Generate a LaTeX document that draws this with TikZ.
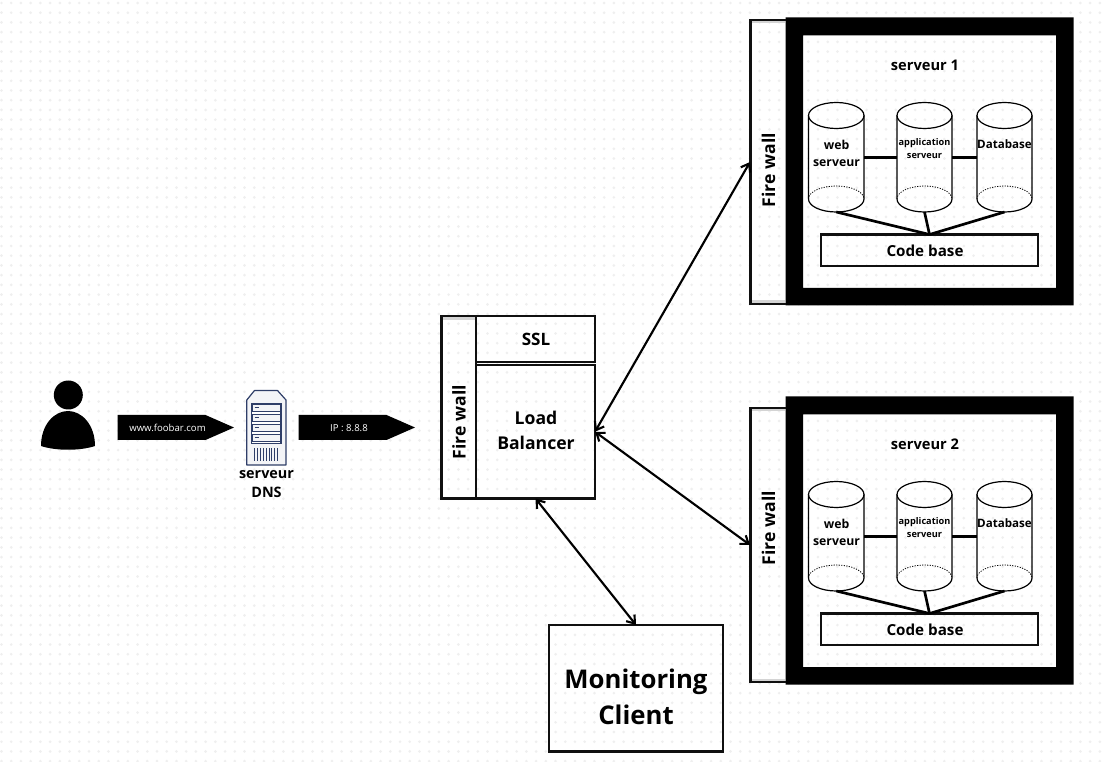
\documentclass[tikz,border=0pt]{standalone}
\usepackage{fontspec}
\setmainfont{Open Sans}
\usetikzlibrary{arrows.meta}
\definecolor{dotc}{HTML}{EFEFEF}
\definecolor{navy}{HTML}{2F3E68}
\definecolor{iconbg}{HTML}{F3F4F7}
\definecolor{band}{HTML}{D4D4D4}
\definecolor{ink}{HTML}{101010}
\tikzset{
  x=0.75pt,y=-0.75pt,
  cell/.style={draw=ink,line width=1.9pt,inner sep=0pt,outer sep=0pt},
  ghost/.style={inner sep=0pt,outer sep=0pt},
  lbl/.style={inner sep=0pt,outer sep=0pt,align=center,text=black,font=\bfseries},
  link/.style={draw=black,line width=2pt},
  dbl/.style={draw=black,line width=1.6pt,{Straight Barb[length=5.5pt,width=8pt]}-{Straight Barb[length=5.5pt,width=8pt]}},
  cylline/.style={draw=black,line width=0.9pt},
  tag/.style={fill=black},
}
\newcommand{\boxat}[6]{% style,name,x1,y1,x2,y2
  \node[#1,minimum width={((#5)-(#3))*0.75pt},minimum height={((#6)-(#4))*0.75pt}] (#2) at ({((#3)+(#5))/2},{((#4)+(#6))/2}) {};}
\newcommand{\cylat}[4]{% name, x1, x2, dy
  \boxat{ghost}{#1}{#2}{#4+102.5}{#3}{#4+212}
  \draw[cylline] ({(#2+#3)/2},#4+115.5) ellipse [x radius={(#3-#2)/2},y radius=13];
  \draw[cylline] (#2,#4+115.5) -- (#2,#4+199) arc[start angle=180,end angle=0,x radius={(#3-#2)/2},y radius=13] -- (#3,#4+115.5);
  \draw[cylline,densely dotted,line width=0.6pt] (#2,#4+199) arc[start angle=180,end angle=360,x radius={(#3-#2)/2},y radius=13];
}
\newcommand{\srv}[5]{% suffix, dy, title, fwtop, fwbottom
  \fill[black,even odd rule] (785.5,#2+17.5) rectangle (1073.5,#2+305.5) (803,#2+35.5) rectangle (1056,#2+288);
  \fill[band] (752,#4+1) rectangle (785,#4+3.5);
  \fill[band] (752,#5-3.5) rectangle (785,#5-1);
  \draw[draw=ink,line width=1.9pt] (785.5,#4) -- (750.5,#4) -- (750.5,#5) -- (785.5,#5);
  \boxat{ghost}{fw#1}{750}{#4}{786}{#5}
  \cylat{web#1}{808.5}{864}{#2}
  \cylat{app#1}{897}{952}{#2}
  \cylat{dbs#1}{977}{1032}{#2}
  \boxat{cell}{code#1}{821}{#2+234.5}{1038}{#2+266}
  \draw[link] (web#1.east) -- (app#1.west);
  \draw[link] (app#1.east) -- (dbs#1.west);
  \draw[link] (web#1.south) -- (code#1.north);
  \draw[link] (app#1.south) -- (code#1.north);
  \draw[link] (dbs#1.south) -- (code#1.north);
  \node[lbl,font=\bfseries\fontsize{11}{12}\selectfont] (title#1) at (925,#2+65.5) {#3};
  \node[lbl,font=\bfseries\fontsize{9.2}{12.6}\selectfont] (webt#1) at (836.5,#2+153.5) {web\\serveur};
  \node[lbl,font=\bfseries\fontsize{6.9}{9.6}\selectfont] (appt#1) at (924.5,#2+148.5) {application\\serveur};
  \node[lbl,font=\bfseries\fontsize{8.7}{10}\selectfont] (dbst#1) at (1004.5,#2+144) {Database};
  \node[lbl,font=\bfseries\fontsize{11.4}{13}\selectfont] (codet#1) at (925,#2+250.5) {Code base};
}
\begin{document}
\begin{tikzpicture}
\useasboundingbox (0,0) rectangle (1107,762);
\fill[white] (0,0) rectangle (1107,762);
% dotted canvas
\foreach \j in {0,...,78}{
  \draw[dotc,line width=2.2pt,line cap=round,dash pattern=on 0pt off 7.29pt] (1.5,{3+\j*9.72}) -- (1107,{3+\j*9.72});
}
% person
\fill[black] (68.3,395) circle[radius=14.5];
\fill[black] (41,446) .. controls (41,425) and (54,411) .. (68,411) .. controls (82,411) and (95,425) .. (95,446) .. controls (80,451) and (56,451) .. (41,446) -- cycle;
% black tags
\fill[tag] (117.5,415) -- (205.5,415) -- (234,427.5) -- (205.5,440) -- (117.5,440) -- cycle;
\node[lbl,text=white,font=\fontsize{7.2}{9}\selectfont] (url) at (167.5,428) {www.foobar.com};
\fill[tag] (298.5,415) -- (386.5,415) -- (415,427.5) -- (386.5,440) -- (298.5,440) -- cycle;
\node[lbl,text=white,font=\fontsize{7.2}{9}\selectfont] (ip) at (349,428) {IP : 8.8.8};
% DNS icon
\draw[navy,fill=iconbg,line width=0.9pt,line join=round] (254.5,390.5) -- (277.5,390.5) -- (286,400) -- (286,465) -- (246.8,465) -- (246.8,400) -- cycle;
\draw[navy,fill=white,line width=0.9pt] (251.5,403.5) rectangle (281,443.5);
\foreach \k in {0,1,2,3}{
  \draw[navy,line width=0.7pt,fill=iconbg] (252,{404+\k*10}) rectangle (280.5,{411+\k*10});
  \draw[navy,line width=0.7pt] (254.5,{407+\k*10}) -- (258.5,{407+\k*10});
}
\foreach \k in {0,...,8}{
  \draw[navy,line width=0.75pt] ({254.5+\k*2.9},448) -- ({254.5+\k*2.9},461);
}
\node[lbl,font=\bfseries\fontsize{10.8}{14.2}\selectfont] (dnst) at (266.5,484.5) {serveur\\DNS};
% load balancer
\fill[band] (443,317.5) rectangle (475,320.5);
\boxat{cell}{fwlb}{441.5}{316}{476}{498.5}
\boxat{cell}{ssl}{476}{316}{595}{362}
\boxat{cell}{lb}{476}{365}{595}{498.5}
\node[lbl,font=\bfseries\fontsize{12.8}{15}\selectfont] (sslt) at (536,339.5) {SSL};
\node[lbl,font=\bfseries\fontsize{13.2}{19.2}\selectfont] (lbt) at (536,430.5) {Load\\Balancer};
\node[lbl,rotate=90,font=\bfseries\fontsize{13.2}{15}\selectfont] (fwlbt) at (459,422) {Fire wall};
% servers
\srv{a}{0}{serveur 1}{20}{304}
\srv{b}{379}{serveur 2}{408}{682}
\node[lbl,rotate=90,font=\bfseries\fontsize{13.2}{15}\selectfont] (fwat) at (768.5,170) {Fire wall};
\node[lbl,rotate=90,font=\bfseries\fontsize{13.2}{15}\selectfont] (fwbt) at (768.5,528) {Fire wall};
% monitoring
\boxat{cell}{mon}{549}{625}{723}{751.5}
\node[lbl,font=\bfseries\fontsize{19.3}{27}\selectfont] (mont) at (636,697) {Monitoring\\Client};
% connectors
\draw[dbl] (lb.east) -- (fwa.west);
\draw[dbl] (lb.east) -- (fwb.west);
\draw[dbl] (lb.south) -- (mon.north);
\end{tikzpicture}
\end{document}
